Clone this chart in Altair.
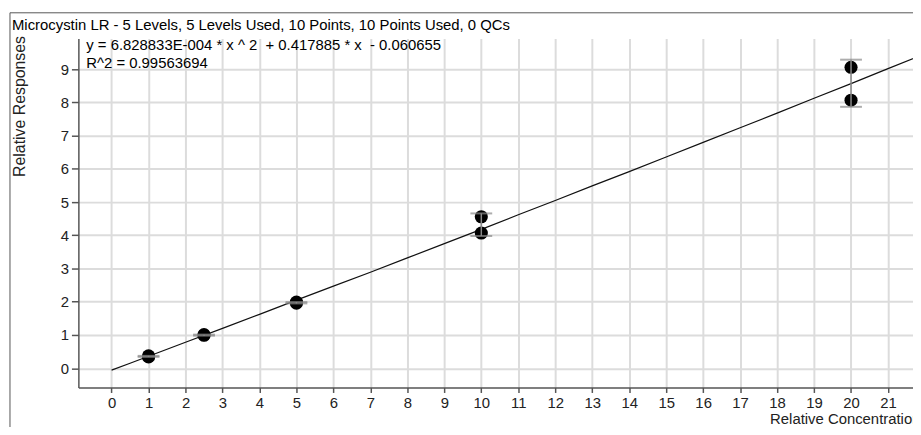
import altair as alt
import pandas as pd

# ---- data ----
title_text = ["Microcystin LR - 5 Levels, 5 Levels Used, 10 Points, 10 Points Used, 0 QCs"]
equation_line = ["y = 6.828833E-004 * x ^ 2 \u00a0+ 0.417885 * x \u00a0- 0.060655"]
r2_line = ["R^2 = 0.99563694"]

point_conc = [1, 1, 2.5, 2.5, 5, 5, 10, 10, 20, 20]
point_resp = [0.34, 0.37, 0.99, 1.01, 1.96, 1.99, 4.07, 4.56, 8.07, 9.06]

level_conc = [1, 2.5, 5, 10, 20]
level_low = [0.34, 0.98, 1.95, 3.98, 7.87]
level_high = [0.37, 1.01, 1.99, 4.66, 9.29]

curve_conc = [0, 0.5, 1, 2, 3, 4, 5, 6, 7, 8, 9, 10, 11, 12, 13, 14, 15,
              16, 17, 18, 19, 20, 21, 22]
curve_resp = [-0.06, 0.15, 0.36, 0.78, 1.20, 1.62, 2.05, 2.47, 2.89, 3.32, 3.75,
              4.18, 4.62, 5.05, 5.49, 5.92, 6.36, 6.80, 7.24, 7.68, 8.13,
              8.57, 9.02, 9.47]

x_ticks = list(range(0, 22))
y_ticks = list(range(0, 10))

x_title = "Relative Concentration"
y_title = "Relative Responses"

FONT = "Liberation Sans"
FS = 15

points_df = pd.DataFrame({"conc": point_conc, "resp": point_resp})
levels_df = pd.DataFrame({"conc": level_conc, "low": level_low, "high": level_high})
curve_df = pd.DataFrame({"conc": curve_conc, "resp": curve_resp})

xscale = alt.Scale(domain=[-0.898, 21.676], nice=False, zero=False)
yscale = alt.Scale(domain=[-0.582, 9.925], nice=False, zero=False)

x_axis = alt.Axis(values=x_ticks, title=x_title, grid=True, gridColor="#dcdcdc",
                  gridWidth=2, tickSize=5, labelPadding=3, format="d",
                  titleX=849, titleY=36, titleAlign="right", titleBaseline="alphabetic",
                  titleAngle=0)
y_axis = alt.Axis(values=y_ticks, title=y_title, grid=True, gridColor="#dcdcdc",
                  gridWidth=2, tickSize=7, labelPadding=3, format="d",
                  titleX=-59, titleY=68, titleAlign="center", titleBaseline="middle",
                  titleAngle=270, titleFontSize=16)

X = alt.X("conc:Q", scale=xscale, axis=x_axis, title=x_title)

curve = alt.Chart(curve_df).mark_line(color="#111111", strokeWidth=1.2).encode(
    x=X,
    y=alt.Y("resp:Q", scale=yscale, axis=y_axis, title=y_title),
)

pts = alt.Chart(points_df).mark_circle(size=175, color="#000000", opacity=1).encode(
    x=X,
    y=alt.Y("resp:Q", scale=yscale, axis=y_axis, title=y_title),
)

stems = alt.Chart(levels_df).mark_rule(color="#8a8a8a", strokeWidth=1.5).encode(
    x=X,
    y=alt.Y("low:Q", scale=yscale, axis=y_axis, title=y_title),
    y2="high:Q",
)

caps_high = alt.Chart(levels_df).mark_tick(color="#8a8a8a", size=22, thickness=2,
                                            orient="horizontal").encode(
    x=X,
    y=alt.Y("high:Q", scale=yscale, axis=y_axis, title=y_title),
)
caps_low = alt.Chart(levels_df).mark_tick(color="#8a8a8a", size=22, thickness=2,
                                           orient="horizontal").encode(
    x=X,
    y=alt.Y("low:Q", scale=yscale, axis=y_axis, title=y_title),
)

one = pd.DataFrame({"k": [0]})
frame_top = alt.Chart(one).mark_rule(color="#555555", strokeWidth=1).encode(
    x=alt.value(-69), x2=alt.value(900), y=alt.value(-26))
frame_left = alt.Chart(one).mark_rule(color="#555555", strokeWidth=1).encode(
    x=alt.value(-69), y=alt.value(-26), y2=alt.value(400))

title_mark = alt.Chart(pd.DataFrame({"t": title_text})).mark_text(
    align="left", baseline="middle", font=FONT, fontSize=FS, color="#000000").encode(
    x=alt.value(-67), y=alt.value(-14), text="t:N")
eq_mark = alt.Chart(pd.DataFrame({"t": equation_line})).mark_text(
    align="left", baseline="middle", font=FONT, fontSize=FS, color="#000000").encode(
    x=alt.value(8), y=alt.value(7), text="t:N")
r2_mark = alt.Chart(pd.DataFrame({"t": r2_line})).mark_text(
    align="left", baseline="middle", font=FONT, fontSize=FS, color="#000000").encode(
    x=alt.value(8), y=alt.value(25), text="t:N")

chart = alt.layer(
    curve, pts, stems, caps_high, caps_low,
    frame_top, frame_left, title_mark, eq_mark, r2_mark,
).properties(
    width=842, height=352,
    autosize=alt.AutoSizeParams(type="none"),
    padding={"left": 71, "top": 29, "right": 0, "bottom": 38},
).configure_view(
    stroke=None
).configure_axis(
    labelFont=FONT, labelFontSize=FS, labelColor="#222222",
    titleFont=FONT, titleFontSize=FS, titleFontWeight="normal", titleColor="#222222",
    domainColor="#555555", domainWidth=1.5, tickColor="#555555", tickWidth=1.5,
)

chart.save("out.html", embed_options={"renderer": "svg", "actions": False})
